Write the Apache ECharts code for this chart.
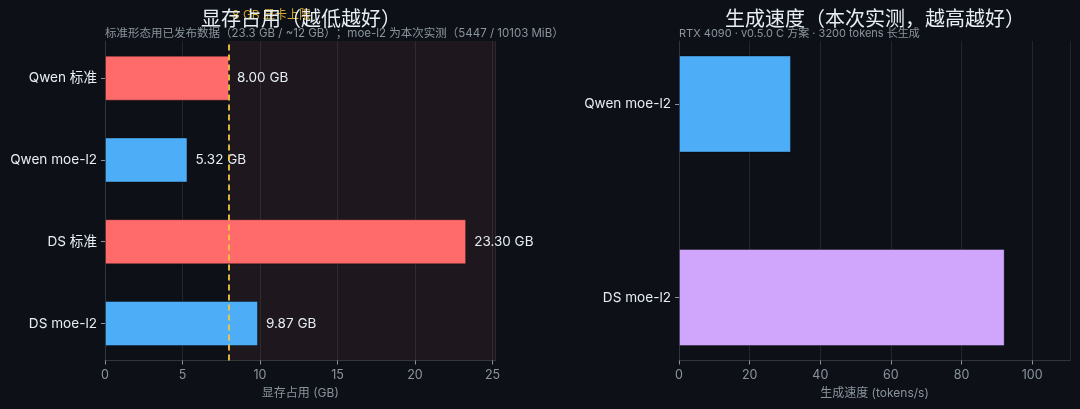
<!doctype html>
<html>
<head>
<meta charset="utf-8">
<title>显存占用 / 生成速度</title>
<script src="https://cdn.jsdelivr.net/npm/echarts@6/dist/echarts.min.js"></script>
<style>
  html, body { margin:0; padding:0; background:#0d1117; }
  #chart { width:1080px; height:409px; }
</style>
</head>
<body>
<div id="chart"></div>
<script>
// 显存占用
var memCats = ['Qwen 标准', 'Qwen moe-l2', 'DS 标准', 'DS moe-l2'];
var memVals = [8.00, 5.32, 23.30, 9.87];
var memColors = ['#ff6b6b', '#4dadf7', '#ff6b6b', '#4dadf7'];
var memLimit = 8;
var memMax = 25.2;
// 生成速度
var spdCats = ['Qwen moe-l2', 'DS moe-l2'];
var spdVals = [31.7, 92.2];
var spdColors = ['#4dadf7', '#d0a6fd'];
var spdMax = 110.7;

var FONT = "Inter, 'Noto Sans CJK SC', sans-serif";
var chart = echarts.init(document.getElementById('chart'));

function valAxis(grid, max, interval, name, show) {
  return {
    type: 'value', gridIndex: grid, min: 0, max: max, interval: interval,
    show: show,
    name: name, nameLocation: 'middle', nameGap: 27,
    nameTextStyle: { color: '#8b949e', fontSize: 12, fontFamily: FONT },
    axisLine: { show: true, lineStyle: { color: '#30363d', width: 1 } },
    axisTick: { show: true, length: 4, lineStyle: { color: '#8b949e' } },
    axisLabel: { color: '#8b949e', fontSize: 12.5, fontFamily: FONT, margin: 8, showMaxLabel: false },
    splitLine: { show: true, lineStyle: { color: '#21262d', width: 1 } }
  };
}
function catAxis(grid, cats) {
  return {
    type: 'category', gridIndex: grid, data: cats, inverse: true,
    axisLine: { show: false },
    axisTick: { show: true, alignWithLabel: true, length: 4, lineStyle: { color: '#8b949e' } },
    axisLabel: { color: '#e6edf3', fontSize: 13.6, fontFamily: FONT, margin: 8 },
    splitLine: { show: false }
  };
}
function frameY(grid) {
  return {
    type: 'value', gridIndex: grid, min: 0, max: 1,
    axisLine: { show: true, lineStyle: { color: '#30363d', width: 1 } },
    axisTick: { show: false }, axisLabel: { show: false }, splitLine: { show: false }
  };
}

var option = {
  backgroundColor: '#0d1117',
  animation: false,
  title: [
    { text: '显存占用（越低越好）', left: 296, top: 5, textAlign: 'center', z: 10,
      textStyle: { color: '#e6edf3', fontSize: 20, fontWeight: 'normal', fontFamily: FONT } },
    { text: '标准形态用已发布数据（23.3 GB / ~12 GB）；moe-l2 为本次实测（5447 / 10103 MiB）',
      left: 100, top: 23, z: 9,
      textStyle: { color: '#8b949e', fontSize: 11.5, fontWeight: 'normal', fontFamily: FONT } },
    { text: '生成速度（本次实测，越高越好）', left: 870, top: 5, textAlign: 'center', z: 10,
      textStyle: { color: '#e6edf3', fontSize: 20, fontWeight: 'normal', fontFamily: FONT } },
    { text: 'RTX 4090 · v0.5.0 C 方案 · 3200 tokens 长生成',
      left: 674, top: 23, z: 9,
      textStyle: { color: '#8b949e', fontSize: 11, fontWeight: 'normal', fontFamily: FONT } }
  ],
  grid: [
    { left: 105, right: 584.4, top: 41, bottom: 48.5 },
    { left: 105, right: 584.4, top: 37.3, bottom: 44.6 },
    { left: 679, right: 10, top: 41, bottom: 48.5 },
    { left: 679, right: 10, top: 7.25, bottom: 14.75 }
  ],
  xAxis: [
    valAxis(0, memMax, 5, '显存占用 (GB)', true),
    valAxis(1, memMax, 5, '', false),
    valAxis(2, spdMax, 20, '生成速度 (tokens/s)', true),
    valAxis(3, spdMax, 20, '', false)
  ],
  yAxis: [
    frameY(0),
    catAxis(1, memCats),
    frameY(2),
    catAxis(3, spdCats)
  ],
  series: [
    { // 8 GB 以上区域
      type: 'scatter', xAxisIndex: 0, yAxisIndex: 0, data: [], z: 0, silent: true,
      markArea: { silent: true, itemStyle: { color: 'rgba(255,107,107,0.07)' },
        data: [[{ xAxis: memLimit }, { xAxis: memMax }]] }
    },
    {
      type: 'bar', xAxisIndex: 1, yAxisIndex: 1, barWidth: 45, z: 2,
      data: memVals.map(function (v, i) {
        return { value: v, itemStyle: { color: memColors[i], borderColor: 'rgba(0,0,0,0.35)', borderWidth: 1 } };
      }),
      label: { show: true, position: 'right', distance: 8, color: '#e6edf3', fontSize: 13.5, fontFamily: FONT,
        formatter: function (p) { return p.value.toFixed(2) + ' GB'; } }
    },
    { // 显卡上限线
      type: 'scatter', xAxisIndex: 0, yAxisIndex: 0, data: [], z: 5, silent: true,
      markLine: { silent: true, symbol: 'none', label: { show: false },
        lineStyle: { color: '#f5c542', type: [6, 4], width: 1.8 },
        data: [{ xAxis: memLimit }] }
    },
    {
      type: 'bar', xAxisIndex: 3, yAxisIndex: 3, barWidth: 97, z: 2,
      data: spdVals.map(function (v, i) {
        return { value: v, itemStyle: { color: spdColors[i], borderColor: 'rgba(0,0,0,0.35)', borderWidth: 1 } };
      })
    }
  ]
};
chart.setOption(option);

// 上限标注，挂在数据坐标 x = 8.2 处
var ax = chart.convertToPixel({ xAxisIndex: 0 }, memLimit + 0.2);
chart.setOption({
  graphic: [{
    type: 'text', left: ax, top: 9, z: 1,
    style: { text: '8 GB 显卡上限', fill: '#d4a72c', fontSize: 12, fontFamily: FONT }
  }]
});
</script>
</body>
</html>
